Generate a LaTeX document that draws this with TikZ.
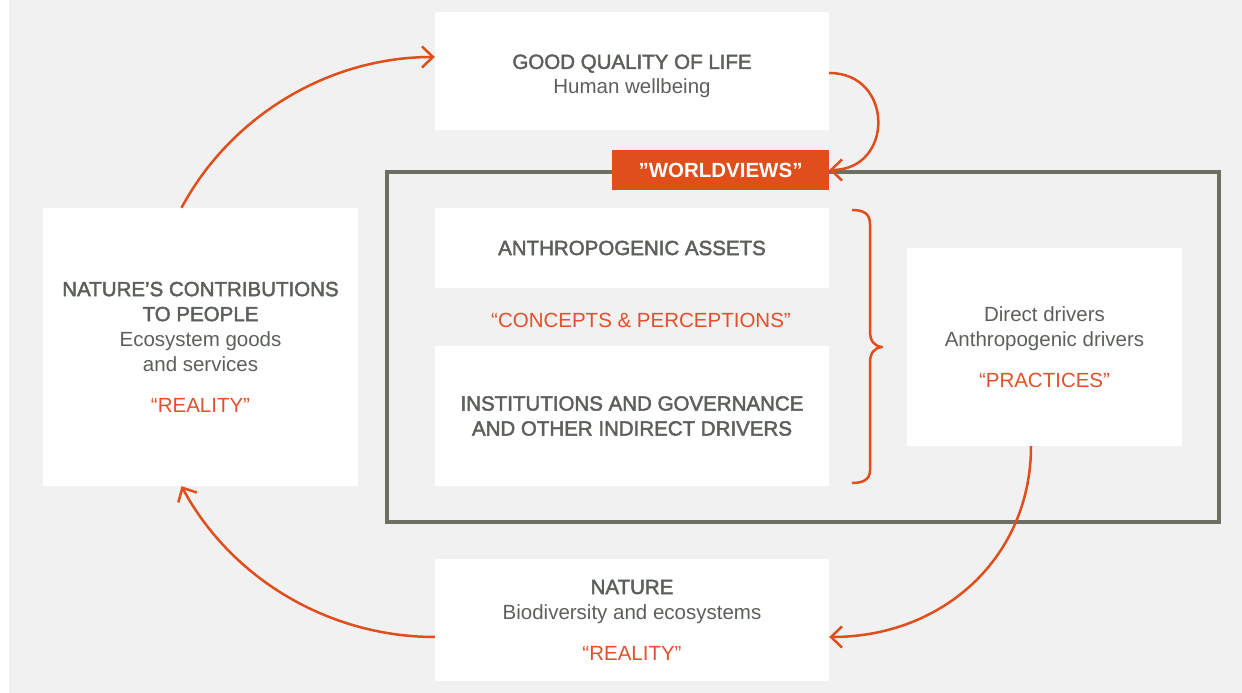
\documentclass[tikz,border=0pt]{standalone}
\usepackage{fontspec}
\setmainfont{Liberation Sans}
\newfontfamily\hfont[FakeBold=2.2]{Liberation Sans}
\usetikzlibrary{arrows.meta,calc}
\definecolor{bggray}{HTML}{F1F1F1}
\definecolor{txtgray}{HTML}{5C605B}
\definecolor{orng}{HTML}{E04E1C}
\definecolor{orngtxt}{HTML}{E3502B}
\definecolor{framegray}{HTML}{6C6F62}
\tikzset{
  wbox/.style={fill=white, draw=none, inner sep=0pt, align=center, text=txtgray,
    font=\fontsize{20.5bp}{25bp}\selectfont},
  flow/.style={draw=orng, line width=2.5bp, -{Straight Barb[length=11bp,width=21bp,line width=2.5bp]}},
  quote/.style={text=orngtxt},
}
\newcommand{\hd}[1]{{\hfont #1}}
\newcommand{\qt}[1]{{\color{orngtxt}#1}}
\begin{document}
\begin{tikzpicture}[x=1bp,y=1bp]
\useasboundingbox (0,0) rectangle (1242,693);
\fill[white] (0,0) rectangle (1242,693);
\fill[bggray] (9,0) rectangle (1242,693);
% frame
\draw[framegray, line width=3.6bp] (387,521) rectangle (1219,171);
% boxes
\node[wbox, minimum width=394bp, minimum height=118bp] (top) at (632,622)
  {\rule{0pt}{6bp}\\[-6bp]\hd{GOOD QUALITY OF LIFE}\\Human wellbeing};
\node[fill=orng, inner sep=0pt, minimum width=217bp, minimum height=40bp, text=white,
  font=\fontsize{20.5bp}{25bp}\selectfont\bfseries] (ww) at (720.5,523) {”WORLDVIEWS”};
\node[wbox, minimum width=315bp, minimum height=278bp] (ncp) at (200.5,346)
  {\hd{NATURE’S CONTRIBUTIONS}\\\hd{TO PEOPLE}\\Ecosystem goods\\and services\\[16bp]\qt{“REALITY”}};
\node[wbox, minimum width=394bp, minimum height=80bp] (assets) at (632,445)
  {\hd{ANTHROPOGENIC ASSETS}};
\node[inner sep=0pt, text=orngtxt, font=\fontsize{20.5bp}{25bp}\selectfont] (concepts) at (641,373)
  {“CONCEPTS \& PERCEPTIONS”};
\node[wbox, minimum width=394bp, minimum height=140bp] (inst) at (632,277)
  {\hd{INSTITUTIONS AND GOVERNANCE}\\\hd{AND OTHER INDIRECT DRIVERS}};
\node[wbox, minimum width=275bp, minimum height=198bp] (drivers) at (1044.5,346)
  {Direct drivers\\Anthropogenic drivers\\[16bp]\qt{“PRACTICES”}};
\node[wbox, minimum width=394bp, minimum height=122bp] (nature) at (632,73)
  {\hd{NATURE}\\Biodiversity and ecosystems\\[16bp]\qt{“REALITY”}};
% brace
\draw[orng, line width=2.5bp, line join=round]
  (852,483) .. controls (864,483) and (870,479) .. (870,469)
  -- (870,362) .. controls (870,352) and (874,347) .. (882,346)
  .. controls (874,345) and (870,340) .. (870,330)
  -- (870,223) .. controls (870,214) and (864,210) .. (852,210);
% arrows
\draw[flow] ($(ncp.north)+(-19,0)$) .. controls +(50,93) and +(-105,0) .. ($(top.west)+(0,14)$);
\draw[flow] ($(top.east)+(0,-2)$) .. controls +(65,0) and +(65,0) .. (ww.east);
\draw[flow] ($(drivers.south)+(-13.5,0)$) .. controls +(0,-110) and +(115,0) .. ($(nature.east)+(0,-17)$);
\draw[flow] ($(nature.west)+(0,-17)$) .. controls +(-105,0) and +(50,-93) .. ($(ncp.south)+(-19,0)$);
\end{tikzpicture}
\end{document}
